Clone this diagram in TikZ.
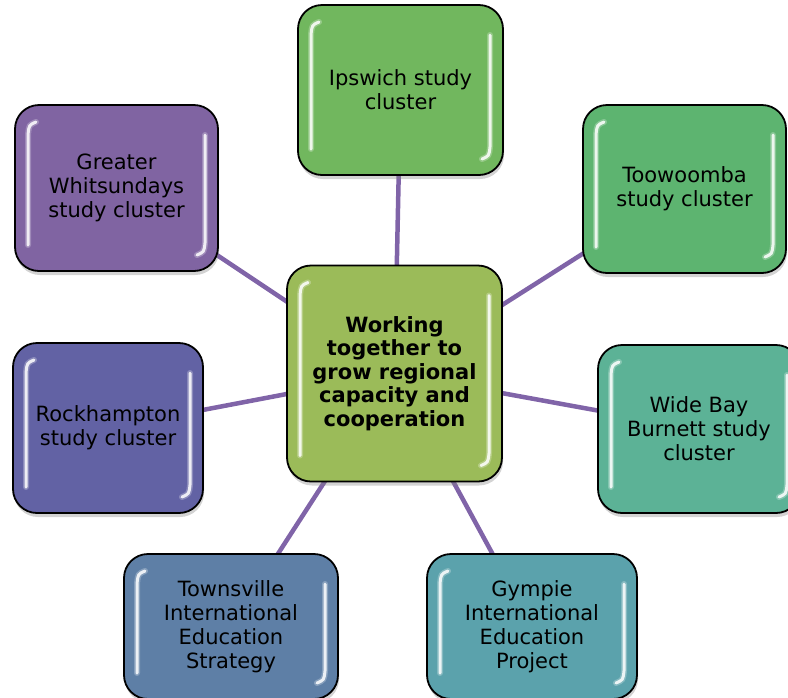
\documentclass[tikz,border=0pt]{standalone}
\usepackage{fontspec}
\setmainfont{DejaVu Sans}
\usetikzlibrary{shadows,backgrounds}
\definecolor{cCenter}{RGB}{155,187,89}
\definecolor{cIps}{RGB}{113,183,94}
\definecolor{cToo}{RGB}{93,180,112}
\definecolor{cWide}{RGB}{92,178,150}
\definecolor{cGym}{RGB}{91,162,172}
\definecolor{cTow}{RGB}{94,127,166}
\definecolor{cRoc}{RGB}{98,98,164}
\definecolor{cWhi}{RGB}{128,100,162}
\definecolor{linkc}{RGB}{128,100,168}
\tikzset{
  hl/.style={draw=white, sharp corners, line width=3pt, line cap=round, opacity=0.85},
  hlglow/.style={draw=white, sharp corners, line width=6pt, line cap=round, opacity=0.25},
  box/.style={draw=black, line width=1.8pt, rounded corners=24pt, align=center,
    font=\fontsize{21}{24}\selectfont, text=black, inner sep=0pt,
    drop shadow={opacity=0.35, shadow xshift=1pt, shadow yshift=-4pt},
    path picture={
      \foreach \st in {hlglow,hl}{
      \draw[\st] ([shift={(21pt,-17pt)}]path picture bounding box.north west)
         .. controls ([shift={(14pt,-20pt)}]path picture bounding box.north west)
         .. ([shift={(13pt,-30pt)}]path picture bounding box.north west)
         -- ([shift={(13pt,26pt)}]path picture bounding box.south west);
      \draw[\st] ([shift={(-13pt,-30pt)}]path picture bounding box.north east)
         -- ([shift={(-13pt,28pt)}]path picture bounding box.south east)
         .. controls ([shift={(-14pt,19pt)}]path picture bounding box.south east)
         .. ([shift={(-21pt,16pt)}]path picture bounding box.south east);
      }
    }},
  link/.style={draw=linkc, line width=4.5pt},
}
\begin{document}
\begin{tikzpicture}[x=1pt,y=-1pt]
\useasboundingbox (0,0) rectangle (788,697);
\clip (0,0) rectangle (788,697);
\node[box, fill=cCenter, minimum width=215pt, minimum height=216pt, font=\fontsize{21}{23.5}\selectfont\bfseries] (c) at (394.5,373.5)
  {Working\\together to\\grow regional\\capacity and\\cooperation};
\node[box, fill=cIps, minimum width=205pt, minimum height=170pt] (ips) at (400.5,90) {Ipswich study\\cluster};
\node[box, fill=cToo, minimum width=203pt, minimum height=168pt] (too) at (684.5,189) {Toowoomba\\study cluster};
\node[box, fill=cWide, minimum width=202pt, minimum height=168pt] (wide) at (699,429) {Wide Bay\\Burnett study\\cluster};
\node[box, fill=cGym, minimum width=210pt, minimum height=145pt] (gym) at (532,626.5) {Gympie\\International\\Education\\Project};
\node[box, fill=cTow, minimum width=214pt, minimum height=145pt] (tow) at (231,626.5) {Townsville\\International\\Education\\Strategy};
\node[box, fill=cRoc, minimum width=190pt, minimum height=170pt] (roc) at (108,428) {Rockhampton\\study cluster};
\node[box, fill=cWhi, minimum width=203pt, minimum height=166pt] (whi) at (116.5,188) {Greater\\Whitsundays\\study cluster};
\begin{scope}[on background layer]
\clip (0,0) rectangle (788,697);
\foreach \n in {ips,too,wide,gym,tow,roc,whi}
  \draw[link] (c.center) -- (\n.center);
\end{scope}
\end{tikzpicture}
\end{document}
